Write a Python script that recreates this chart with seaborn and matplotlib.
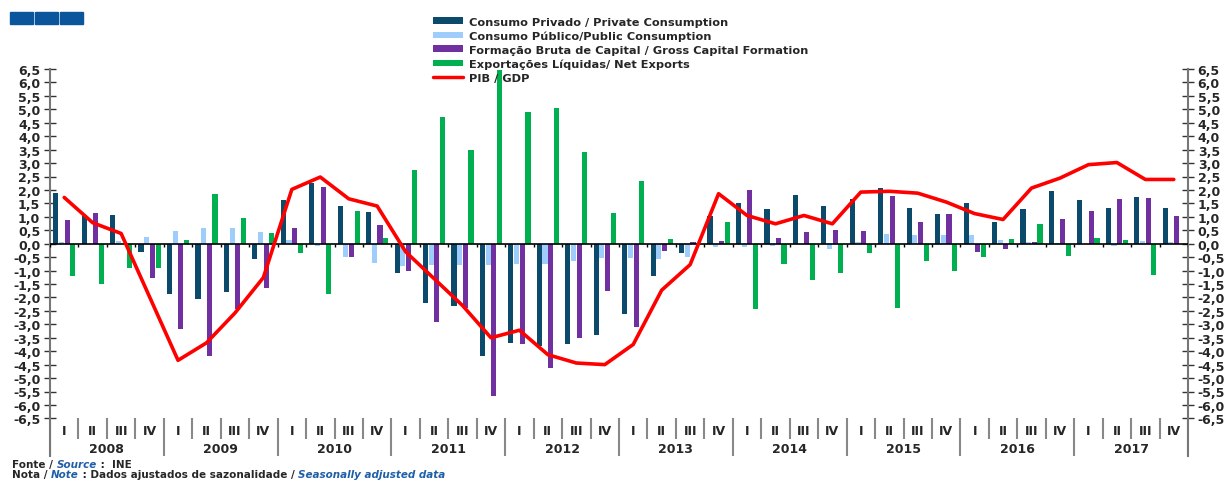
import numpy as np
import pandas as pd
import seaborn as sns
import matplotlib.pyplot as plt
from matplotlib.patches import Rectangle, Patch
from matplotlib.lines import Line2D

# Quarterly contributions to GDP growth (p.p.), 2008 Q1 - 2017 Q4
years = [str(y) for y in range(2008, 2018)]
quarters = ['I', 'II', 'III', 'IV']

private_cons = [1.88, 1.02, 1.08, -0.31, -1.88, -2.07, -1.80, -0.56,
                1.64, 2.27, 1.39, 1.19, -1.10, -2.20, -2.33, -4.19,
                -3.69, -3.80, -3.75, -3.38, -2.60, -1.20, -0.35, 1.03,
                1.52, 1.30, 1.83, 1.39, 1.65, 2.08, 1.34, 1.12,
                1.52, 0.80, 1.30, 1.95, 1.61, 1.33, 1.75, 1.33]
public_cons = [0.06, -0.02, 0.09, 0.26, 0.46, 0.60, 0.60, 0.43,
               0.15, -0.10, -0.50, -0.70, -0.83, -0.80, -0.80, -0.80,
               -0.74, -0.75, -0.66, -0.53, -0.53, -0.58, -0.50, -0.14,
               -0.14, -0.10, 0.00, -0.20, 0.06, 0.36, 0.33, 0.33,
               0.31, 0.15, 0.06, 0.04, 0.00, -0.09, 0.09, 0.06]
gross_cap = [0.88, 1.13, 0.00, -1.28, -3.16, -4.19, -2.44, -1.64,
             0.57, 2.11, -0.50, 0.68, -1.03, -2.90, -2.40, -5.68,
             -3.73, -4.62, -3.50, -1.77, -3.11, -0.28, 0.06, 0.10,
             2.00, 0.21, 0.45, 0.50, 0.47, 1.78, 0.80, 1.09,
             -0.31, -0.21, 0.06, 0.93, 1.20, 1.66, 1.69, 1.02]
net_exports = [-1.19, -1.49, -0.90, -0.90, 0.12, 1.85, 0.95, 0.41,
               -0.35, -1.88, 1.20, 0.21, 2.76, 4.72, 3.50, 6.45,
               4.90, 5.04, 3.41, 1.13, 2.35, 0.19, 0.00, 0.80,
               -2.42, -0.77, -1.36, -1.08, -0.35, -2.39, -0.66, -1.02,
               -0.50, 0.19, 0.72, -0.46, 0.21, 0.12, -1.15, -0.03]
gdp = [1.72, 0.78, 0.38, -1.98, -4.34, -3.69, -2.58, -1.26,
       2.02, 2.48, 1.67, 1.40, -0.30, -1.30, -2.30, -3.50,
       -3.22, -4.13, -4.44, -4.50, -3.75, -1.73, -0.78, 1.86,
       1.05, 0.74, 1.05, 0.74, 1.92, 1.95, 1.88, 1.55,
       1.12, 0.90, 2.07, 2.44, 2.94, 3.02, 2.39, 2.39]

names = ['Consumo Privado / Private Consumption',
         'Consumo Público/Public Consumption',
         'Formação Bruta de Capital / Gross Capital Formation',
         'Exportações Líquidas/ Net Exports']
gdp_name = 'PIB / GDP'
colors = ['#0c4a6c', '#9fcdfb', '#7030a0', '#00b050']

n = len(gdp)
df = pd.DataFrame({'q': np.tile(np.arange(n), 4),
                   'series': np.repeat(names, n),
                   'value': private_cons + public_cons + gross_cap + net_exports})

sns.set_style('white')
plt.rcParams['font.family'] = ['DejaVu Sans']
plt.rcParams['font.weight'] = 'bold'

fig = plt.figure(figsize=(12.28, 4.81), dpi=100)
ax = fig.add_axes([50 / 1228, 1 - 457 / 481, 1138 / 1228, 387 / 481])

sns.barplot(data=df, x='q', y='value', hue='series', hue_order=names,
            palette=colors, saturation=1, width=0.8, gap=0.1,
            linewidth=0, legend=False, ax=ax)
sns.lineplot(x=np.arange(n), y=gdp, color='#ff0000', lw=2.6, ax=ax, zorder=5)

ymin = -7.9
ax.set_xlim(-0.5, n - 0.5)
ax.set_ylim(ymin, 6.5)
ax.set_xticks([])
ax.set_xlabel('')
ax.set_ylabel('')

yt = np.arange(-6.5, 6.51, 0.5)
ax.set_yticks(yt)
ax.set_yticklabels([f'{v:.1f}'.replace('.', ',') for v in yt])
ax.yaxis.set_ticks_position('both')
ax.tick_params(axis='y', direction='inout', length=8, width=1, color='#333333',
               labelsize=9, labelright=True, pad=3)
for side in ['top', 'bottom']:
    ax.spines[side].set_visible(False)
for side in ['left', 'right']:
    ax.spines[side].set_color('#777777')
    ax.spines[side].set_linewidth(1.5)

# zero line with small quarter ticks
ax.axhline(0, color='black', lw=1.2, zorder=4)
for k in range(n + 1):
    ax.vlines(k - 0.5, -0.14, 0, color='black', lw=1, zorder=4)

# category axis below the plot
for k in range(n + 1):
    bottom = ymin if k % 4 == 0 else -7.25
    ax.vlines(k - 0.5, bottom, -6.5, color='#888888', lw=1.5)
for k in range(n):
    ax.text(k, -6.95, quarters[k % 4], ha='center', va='center', fontsize=9,
            fontweight='bold')
for i, y in enumerate(years):
    ax.text(4 * i + 1.5, -7.62, y, ha='center', va='center', fontsize=9,
            fontweight='bold')

# legend
handles = [Patch(facecolor=c, edgecolor='none') for c in colors]
handles.append(Line2D([], [], color='#ff0000', lw=2.5))
fig.legend(handles, names + [gdp_name], loc='upper left',
           bbox_to_anchor=(427 / 1228, 1 - 12 / 481), frameon=False,
           handlelength=2.7, handleheight=0.5,
           handletextpad=0.45, labelspacing=0.33, borderpad=0,
           prop={'weight': 'bold', 'size': 8.2})

# blue boxes at top left
for x0 in [10, 35, 60]:
    fig.add_artist(Rectangle((x0 / 1228, 1 - 25 / 481), 23 / 1228, 12 / 481,
                             transform=fig.transFigure, color='#0b559c'))

# footer
blue = '#1f5fa8'
fs = 7.5
t = fig.text(12 / 1228, 1 - 470 / 481, 'Fonte / ', fontsize=fs, fontweight='bold',
             va='bottom')
t = ax.annotate('Source', xy=(1, 0), xycoords=t, va='bottom', fontsize=fs,
                fontweight='bold', style='italic', color=blue, annotation_clip=False)
t = ax.annotate(' :  INE', xy=(1, 0), xycoords=t, va='bottom', fontsize=fs,
                fontweight='bold', annotation_clip=False)
t = fig.text(12 / 1228, 1 - 480 / 481, 'Nota / ', fontsize=fs, fontweight='bold',
             va='bottom')
t = ax.annotate('Note', xy=(1, 0), xycoords=t, va='bottom', fontsize=fs,
                fontweight='bold', style='italic', color=blue, annotation_clip=False)
t = ax.annotate(' : Dados ajustados de sazonalidade / ', xy=(1, 0), xycoords=t,
                va='bottom', fontsize=fs, fontweight='bold', annotation_clip=False)
t = ax.annotate('Seasonally adjusted data', xy=(1, 0), xycoords=t, va='bottom',
                fontsize=fs, fontweight='bold', style='italic', color=blue,
                annotation_clip=False)

fig.savefig('out.png', dpi=100)
